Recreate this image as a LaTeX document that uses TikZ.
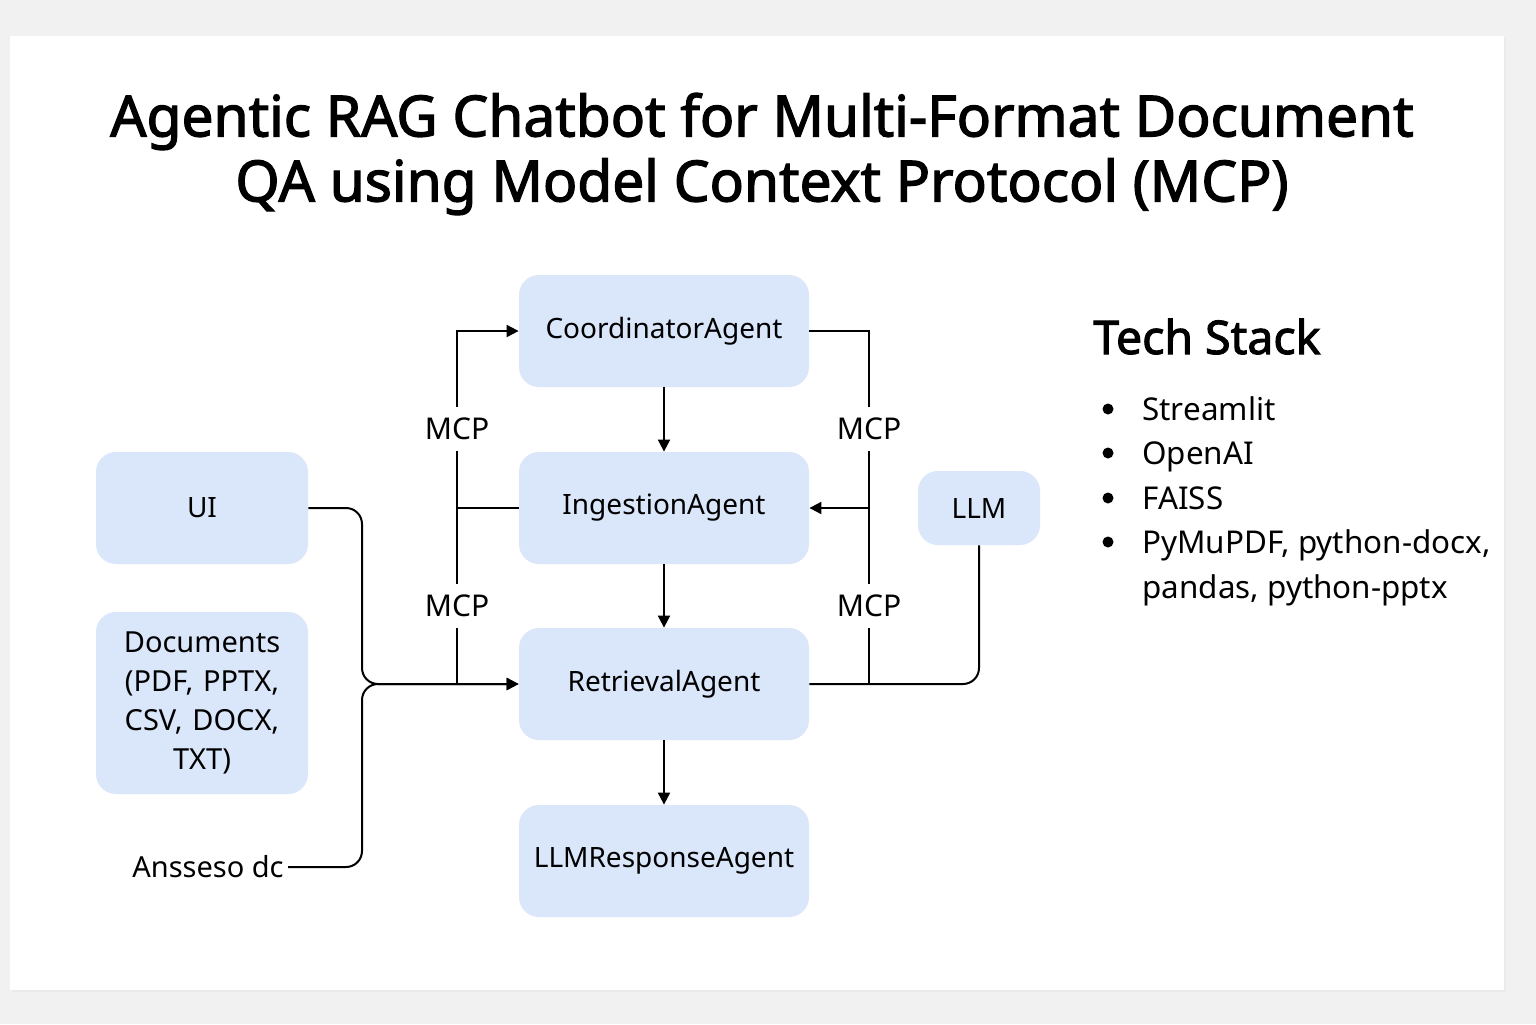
\documentclass[tikz,border=0pt]{standalone}
\usepackage{fontspec}
\setmainfont{Noto Sans}[AutoFakeBold=2.2]
\usetikzlibrary{arrows.meta}

\definecolor{boxblue}{HTML}{DAE6FA}
\definecolor{pagegray}{HTML}{F1F1F1}

\tikzset{
    agent/.style={fill=boxblue, rounded corners=10pt, minimum width=145pt, minimum height=56pt, font=\fontsize{14}{19}\selectfont, align=center},
    side/.style={agent, minimum width=106pt},
    mcp/.style={fill=white, inner xsep=1pt, inner ysep=0pt, minimum height=22pt, font=\fontsize{15}{18}\selectfont},
    wire/.style={line width=1pt},
    arr/.style={wire, -{Triangle[length=6pt, width=6pt]}},
    bullet/.style={anchor=base west, inner sep=0pt, font=\fontsize{15.7}{22}\selectfont}
}

\begin{document}
\begin{tikzpicture}[x=0.5pt, y=-0.5pt]
    % page and card
    \useasboundingbox (0,0) rectangle (1536,1024);
    \fill[pagegray] (0,0) rectangle (1536,1024);
    \fill[black!8] (12,38) rectangle (1506,992);
    \fill[white] (10,36) rectangle (1504,990);

    % title
    \node (title) at (762,154) [align=center, font=\bfseries\fontsize{28.4}{32.5}\selectfont]
        {Agentic RAG Chatbot for Multi-Format Document\\QA using Model Context Protocol (MCP)};

    % agents in the middle column
    \node[agent] (coord) at (664,331) {CoordinatorAgent};
    \node[agent] (ingest) at (664,508) {IngestionAgent};
    \node[agent] (retr) at (664,684) {RetrievalAgent};
    \node[agent] (resp) at (664,861) {LLMResponseAgent};

    % inputs on the left
    \node[side] (ui) at (202,508) {UI};
    \node[side, minimum height=91pt, text width=95pt, font=\fontsize{14.5}{19.5}\selectfont] (docs) at (202,703)
        {Documents\\(PDF, PPTX,\\CSV, DOCX,\\TXT)};
    \node[font=\fontsize{14.5}{19}\selectfont, inner sep=2pt] (ans) at (208,867) {Ansseso dc};

    % LLM on the right
    \node[side, minimum width=61pt, minimum height=37pt] (llm) at (979,508) {LLM};

    % MCP labels
    \node[mcp] (mcpl1) at (457,429) {MCP};
    \node[mcp] (mcpl2) at (457,606) {MCP};
    \node[mcp] (mcpr1) at (869,429) {MCP};
    \node[mcp] (mcpr2) at (869,606) {MCP};

    % main chain
    \draw[arr] (coord) -- (ingest);
    \draw[arr] (ingest) -- (retr);
    \draw[arr] (retr) -- (resp);

    % left MCP bus
    \draw[wire] (mcpl2.center |- retr.west) -- (mcpl2.south);
    \draw[wire] (mcpl2.north) -- (mcpl1.south);
    \draw[arr] (mcpl1.north) -- (mcpl1.center |- coord.west) -- (coord.west);
    \draw[wire] (ingest.west) -- (mcpl1.center |- ingest.west);

    % right MCP bus
    \draw[wire] (coord.east) -- (mcpr1.center |- coord.east) -- (mcpr1.north);
    \draw[wire] (mcpr1.south) -- (mcpr2.north);
    \draw[wire] (mcpr2.south) -- (mcpr2.center |- retr.east);
    \draw[arr] (mcpr1.center |- ingest.east) -- (ingest.east);
    \draw[wire, rounded corners=8pt] (retr.east) -- (llm.south |- retr.east) -- (llm.south);

    % inputs into RetrievalAgent
    \draw[arr, rounded corners=8pt] (ui.east) -- (362,508) -- (362,684) -- (retr.west);
    \draw[arr, rounded corners=8pt] (ans.east) -- (362,867) -- (362,684) -- (retr.west);

    % tech stack
    \node[anchor=base west, inner sep=0pt, font=\bfseries\fontsize{23.2}{28}\selectfont] (stack) at (1093,354) {Tech Stack};
    \foreach \y/\t [count=\i] in {420/Streamlit, 464/OpenAI, 509/FAISS, 553/{PyMuPDF, python-docx,}} {
        \node[bullet] (item\i) at (1142,\y) {\t};
        \fill (1108,\y-11) circle (5.5);
    }
    \node[bullet] (item5) at (1142,598) {pandas, python-pptx};
\end{tikzpicture}
\end{document}
